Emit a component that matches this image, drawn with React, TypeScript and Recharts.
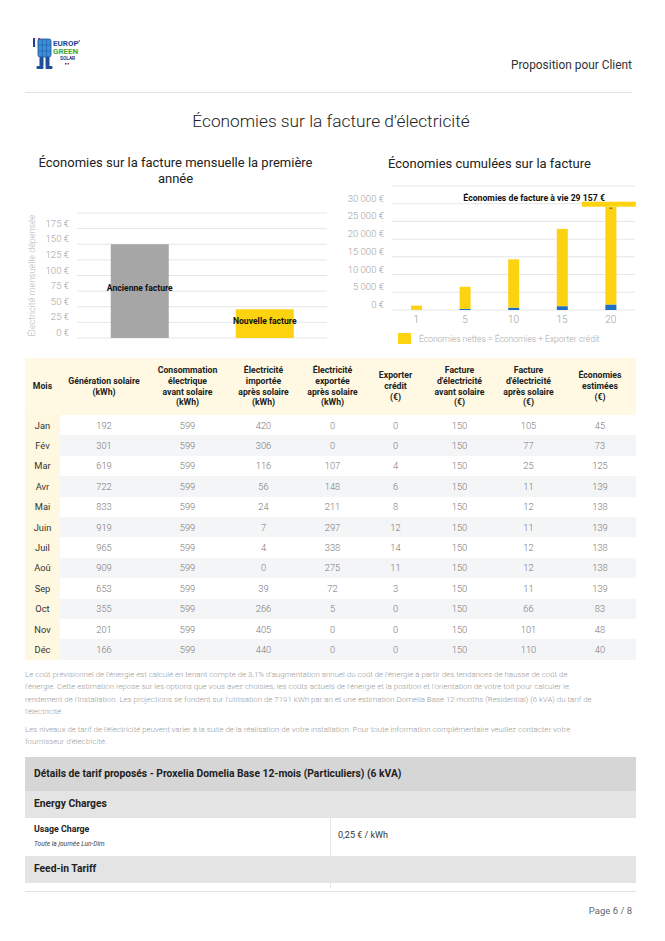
import { Bar, BarChart, CartesianGrid, Cell, LabelList, XAxis, YAxis } from 'recharts';

const factureCategories = ['Ancienne facture', 'Nouvelle facture'];
const factureValeurs = [150, 46];
const factureCouleurs = ['#a6a6a6', '#fdd20f'];
const factureTicks = [0, 25, 50, 75, 100, 125, 150, 175, 200];

const annees = ['1', '5', '10', '15', '20'];
const economiesCumulees = [1192, 6242, 13635, 21820, 27597];
const creditCumule = [58, 308, 665, 1080, 1560];
const cumulTicks = [0, 5000, 10000, 15000, 20000, 25000, 30000, 35000];

const mois = ['Jan', 'Fév', 'Mar', 'Avr', 'Mai', 'Juin', 'Juil', 'Aoû', 'Sep', 'Oct', 'Nov', 'Déc'];
const generation = [192, 301, 619, 722, 833, 919, 965, 909, 653, 355, 201, 166];
const consommation = [599, 599, 599, 599, 599, 599, 599, 599, 599, 599, 599, 599];
const importee = [420, 306, 116, 56, 24, 7, 4, 0, 39, 266, 405, 440];
const exportee = [0, 0, 107, 148, 211, 297, 338, 275, 72, 5, 0, 0];
const credit = [0, 0, 4, 6, 8, 12, 14, 11, 3, 0, 0, 0];
const factureAvant = [150, 150, 150, 150, 150, 150, 150, 150, 150, 150, 150, 150];
const factureApres = [105, 77, 25, 11, 12, 11, 12, 12, 11, 66, 101, 110];
const economiesMois = [45, 73, 125, 139, 138, 139, 138, 138, 139, 83, 48, 40];

const enTetes = [
  ['Mois'],
  ['Génération solaire', '(kWh)'],
  ['Consommation', 'électrique', 'avant solaire', '(kWh)'],
  ['Électricité', 'importée', 'après solaire', '(kWh)'],
  ['Électricité', 'exportée', 'après solaire', '(kWh)'],
  ['Exporter', 'crédit', '(€)'],
  ['Facture', "d'électricité", 'avant solaire', '(€)'],
  ['Facture', "d'électricité", 'après solaire', '(€)'],
  ['Économies', 'estimées', '(€)'],
];
const largeurs = [35, 88, 79, 73, 65, 61, 67, 71, 72];

const FONT = 'Roboto, sans-serif';
const GRIS_TICK = '#a0a0a0';

const milliers = (v: number) => String(v).replace(/\B(?=(\d{3})+(?!\d))/g, ' ');

function makeTick(top: number) {
  return (props: any) => {
    const { x, y, payload } = props;
    if (payload.value === top) return <g />;
    return (
      <text
        x={x}
        y={y - 4.5}
        textAnchor="end"
        dominantBaseline="middle"
        fill={GRIS_TICK}
        fontSize={9.5}
        fontWeight={300}
        fontFamily={FONT}
      >
        {milliers(payload.value)} €
      </text>
    );
  };
}

const factureData = factureCategories.map((name, i) => ({ name, value: factureValeurs[i] }));
const cumulData = annees.map((annee, i) => ({
  annee,
  credit: creditCumule[i],
  economies: economiesCumulees[i],
}));

function LabelFacture(props: any) {
  const { x, y, width, height, value } = props;
  return (
    <text
      x={x + width / 2}
      y={y + height / 2 - 2}
      textAnchor="middle"
      dominantBaseline="middle"
      fill="#111"
      fontSize={8.6}
      fontWeight={700}
      fontFamily={FONT}
    >
      {value}
    </text>
  );
}

function AnnotationVie(props: any) {
  const { x, y, width, index } = props;
  if (index !== cumulData.length - 1) return <g />;
  const total = economiesCumulees[index] + creditCumule[index];
  const cx = x + width / 2;
  return (
    <g>
      <rect x={cx - 29} y={y - 5} width={54} height={5} fill="#fdd20f" />
      <rect x={cx - 1.5} y={y + 1} width={3} height={1} fill="#555" />
      <text
        x={cx - 6}
        y={y - 8}
        textAnchor="end"
        dominantBaseline="middle"
        fontSize={8.7}
        fontWeight={700}
        fontFamily={FONT}
        fill="#111"
      >
        Économies de facture à vie {milliers(total)} €
      </text>
    </g>
  );
}

function Logo() {
  return (
    <svg width={64} height={36} style={{ position: 'absolute', left: 30, top: 36 }}>
      <rect x={3} y={2} width={2} height={9} fill="#1f3f9a" />
      <rect x={5.5} y={2} width={2} height={9} fill="#ffffff" stroke="#ccc" strokeWidth={0.3} />
      <rect x={8} y={2} width={2} height={9} fill="#d9262c" />
      <rect x={8} y={3} width={13} height={18} rx={2} fill="#3a8fd6" stroke="#1d4f9a" strokeWidth={0.8} />
      <line x1={12.3} y1={3} x2={12.3} y2={21} stroke="#1d4f9a" strokeWidth={0.5} />
      <line x1={16.6} y1={3} x2={16.6} y2={21} stroke="#1d4f9a" strokeWidth={0.5} />
      <line x1={8} y1={9} x2={21} y2={9} stroke="#1d4f9a" strokeWidth={0.5} />
      <line x1={8} y1={15} x2={21} y2={15} stroke="#1d4f9a" strokeWidth={0.5} />
      <rect x={9.5} y={21} width={4} height={9} fill="#1d4f9a" />
      <rect x={15.5} y={21} width={4} height={9} fill="#1d4f9a" />
      <rect x={6.5} y={30} width={7} height={3} rx={1} fill="#1d4f9a" />
      <rect x={15.5} y={30} width={7} height={3} rx={1} fill="#1d4f9a" />
      <text x={23} y={10} fontSize={8} fontWeight={700} fill="#1d3f8f" fontFamily={FONT}>EUROP'</text>
      <text x={23} y={18} fontSize={8} fontWeight={700} fill="#3daa3a" fontFamily={FONT}>GREEN</text>
      <text x={30} y={24} fontSize={4.8} fontWeight={700} fill="#1d3f8f" fontFamily={FONT}>SOLAR</text>
      <rect x={35} y={27} width={1.5} height={1.5} fill="#1d3f8f" />
      <rect x={37.5} y={27} width={1.5} height={1.5} fill="#d9262c" />
    </svg>
  );
}

const abs = (left: number, top: number, extra: any = {}) => ({ position: 'absolute' as const, left, top, ...extra });
const note = { fontSize: 7.9, fontWeight: 300, color: '#9a9a9a', lineHeight: '12.4px', whiteSpace: 'nowrap' as const };

export default function App() {
  return (
    <div
      style={{
        position: 'absolute',
        left: 0,
        top: 0,
        width: 665,
        height: 941,
        background: '#fff',
        fontFamily: FONT,
        overflow: 'hidden',
      }}
    >
      <Logo />
      <div style={abs(0, 58, { width: 632, textAlign: 'right', fontSize: 11.9, color: '#333' })}>
        Proposition pour Client
      </div>
      <div style={abs(25, 92, { width: 607, height: 1, background: '#e2e2e2' })} />
      <div style={abs(0, 111, { width: 662, textAlign: 'center', fontSize: 17.3, fontWeight: 300, color: '#222' })}>
        Économies sur la facture d’électricité
      </div>

      {/* Graphique gauche */}
      <div style={abs(20, 155, { width: 311, textAlign: 'center', fontSize: 13, lineHeight: '16px', color: '#222' })}>
        Économies sur la facture mensuelle la première
        <br />
        année
      </div>
      <div style={abs(20, 200)}>
        <BarChart
          width={320}
          height={150}
          data={factureData}
          margin={{ top: 13, right: 13, left: 0, bottom: 12 }}
          barCategoryGap="27%"
        >
          <CartesianGrid vertical={false} stroke="#e6e6e6" />
          <XAxis dataKey="name" hide />
          <YAxis
            width={57}
            domain={[0, 200]}
            ticks={factureTicks}
            interval={0}
            axisLine={false}
            tickLine={false}
            tick={makeTick(200)}
            label={{
              value: 'Électricité mensuelle dépensée',
              angle: -90,
              position: 'insideLeft',
              offset: 12,
              style: { textAnchor: 'middle', fill: '#b4b4b4', fontSize: 9, fontWeight: 300, fontFamily: FONT },
            }}
          />
          <Bar dataKey="value" isAnimationActive={false}>
            {factureData.map((d, i) => (
              <Cell key={d.name} fill={factureCouleurs[i]} />
            ))}
            <LabelList dataKey="name" content={LabelFacture} />
          </Bar>
        </BarChart>
      </div>

      {/* Graphique droit */}
      <div style={abs(388, 156, { fontSize: 13, color: '#222' })}>Économies cumulées sur la facture</div>
      <div style={abs(340, 180)}>
        <BarChart
          width={310}
          height={170}
          data={cumulData}
          margin={{ top: 6, right: 15, left: 0, bottom: 20 }}
          barSize={11}
        >
          <CartesianGrid vertical={false} stroke="#e6e6e6" />
          <XAxis
            dataKey="annee"
            axisLine={false}
            tickLine={false}
            tickMargin={0}
            height={20}
            tick={{ fill: GRIS_TICK, fontSize: 10, fontWeight: 300, fontFamily: FONT }}
          />
          <YAxis
            width={52}
            domain={[0, 35000]}
            ticks={cumulTicks}
            interval={0}
            axisLine={false}
            tickLine={false}
            tick={makeTick(35000)}
          />
          <Bar dataKey="credit" stackId="a" fill="#1f70c4" isAnimationActive={false} />
          <Bar dataKey="economies" stackId="a" fill="#fdd20f" isAnimationActive={false}>
            <LabelList dataKey="economies" content={AnnotationVie} />
          </Bar>
        </BarChart>
      </div>
      <div style={abs(398, 333, { width: 13, height: 11, background: '#fdd20f' })} />
      <div style={abs(419, 333, { fontSize: 8.5, fontWeight: 300, color: '#a8a8a8', lineHeight: '12px' })}>
        Économies nettes = Économies + Exporter crédit
      </div>

      {/* Tableau mensuel */}
      <table
        style={{
          position: 'absolute',
          left: 25,
          top: 358,
          width: 611,
          borderCollapse: 'collapse',
          tableLayout: 'fixed',
          fontFamily: FONT,
        }}
      >
        <colgroup>
          {largeurs.map((w, i) => (
            <col key={i} style={{ width: w }} />
          ))}
        </colgroup>
        <thead>
          <tr style={{ height: 57, background: '#fff9e3' }}>
            {enTetes.map((lignes, i) => (
              <th
                key={i}
                style={{ fontSize: 8.7, fontWeight: 700, color: '#222', lineHeight: '10.8px', textAlign: 'center', padding: 0 }}
              >
                {lignes.map((l, j) => (
                  <div key={j} style={{ whiteSpace: 'nowrap' }}>{l}</div>
                ))}
              </th>
            ))}
          </tr>
        </thead>
        <tbody>
          {mois.map((m, i) => {
            const vals = [
              generation[i],
              consommation[i],
              importee[i],
              exportee[i],
              credit[i],
              factureAvant[i],
              factureApres[i],
              economiesMois[i],
            ];
            return (
              <tr key={m} style={{ height: 20.4, background: i % 2 === 1 ? '#f4f5f7' : '#ffffff' }}>
                <td style={{ background: '#fff8e0', textAlign: 'center', fontSize: 9.3, color: '#333', padding: 0 }}>{m}</td>
                {vals.map((v, j) => (
                  <td key={j} style={{ textAlign: 'center', fontSize: 9.3, fontWeight: 300, color: '#777', padding: 0 }}>
                    {v}
                  </td>
                ))}
              </tr>
            );
          })}
        </tbody>
      </table>

      {/* Notes */}
      <div style={abs(25, 669, note)}>
        Le coût prévisionnel de l'énergie est calculé en tenant compte de 3,1% d'augmentation annuel du coût de l'énergie à partir des tendances de hausse de coût de
        <br />
        l'énergie. Cette estimation repose sur les options que vous avez choisies, les coûts actuels de l'énergie et la position et l'orientation de votre toit pour calculer le
        <br />
        rendement de l'installation. Les projections se fondent sur l'utilisation de 7191 kWh par an et une estimation Domelia Base 12 months (Residential) (6 kVA) du tarif de
        <br />
        l'électricité
      </div>
      <div style={abs(25, 724, note)}>
        Les niveaux de tarif de l'électricité peuvent varier à la suite de la réalisation de votre installation. Pour toute information complémentaire veuillez contacter votre
        <br />
        fournisseur d'électricité.
      </div>

      {/* Tarifs */}
      <div style={abs(25, 757, { width: 611, height: 34, background: '#d6d6d6' })} />
      <div style={abs(34, 767, { fontSize: 10.3, fontWeight: 700, color: '#222' })}>
        Détails de tarif proposés - Proxelia Domelia Base 12-mois (Particuliers) (6 kVA)
      </div>
      <div style={abs(25, 791, { width: 611, height: 27, background: '#e4e4e4' })} />
      <div style={abs(34, 797, { fontSize: 10.3, fontWeight: 700, color: '#222' })}>Energy Charges</div>
      <div style={abs(25, 818, { width: 611, height: 38, background: '#fff' })} />
      <div style={abs(330, 818, { width: 1, height: 38, background: '#e6e6e6' })} />
      <div style={abs(34, 824, { fontSize: 8.8, fontWeight: 700, color: '#222' })}>Usage Charge</div>
      <div style={abs(34, 840, { fontSize: 6.6, fontStyle: 'italic', color: '#444' })}>Toute la journée Lun-Dim</div>
      <div style={abs(338, 830, { fontSize: 9, color: '#333' })}>0,25 € / kWh</div>
      <div style={abs(25, 856, { width: 611, height: 27, background: '#e4e4e4' })} />
      <div style={abs(34, 862, { fontSize: 10.3, fontWeight: 700, color: '#222' })}>Feed-in Tariff</div>
      <div style={abs(330, 883, { width: 1, height: 5, background: '#e6e6e6' })} />
      <div style={abs(25, 891, { width: 611, height: 1, background: '#e2e2e2' })} />
      <div style={abs(0, 905, { width: 632, textAlign: 'right', fontSize: 9.5, color: '#666' })}>Page 6 / 8</div>
    </div>
  );
}
